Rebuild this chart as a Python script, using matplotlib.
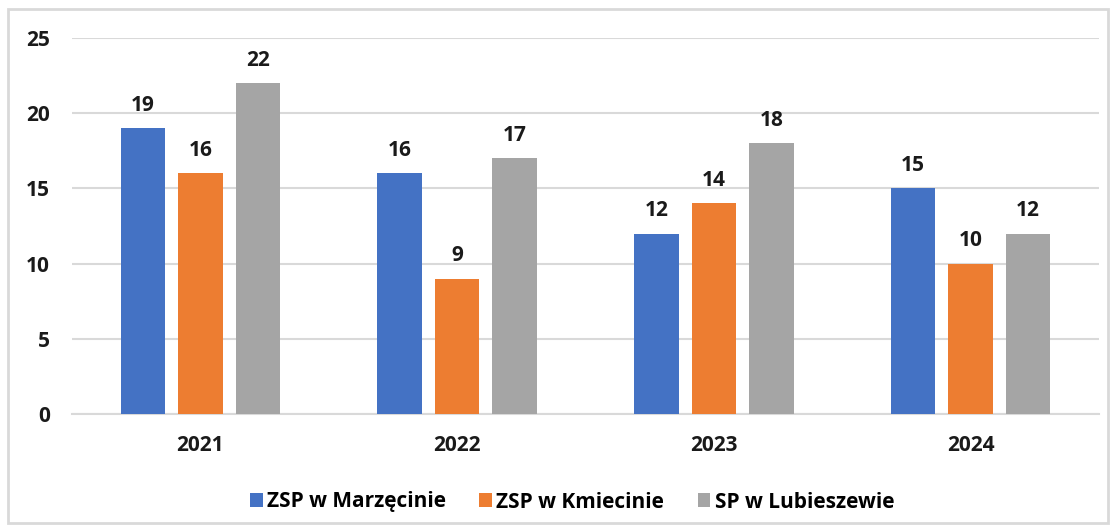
import matplotlib.pyplot as plt
from matplotlib.patches import FancyBboxPatch

plt.rcParams['font.family'] = ['Open Sans', 'DejaVu Sans']
plt.rcParams['font.weight'] = 'bold'

years = ["2021", "2022", "2023", "2024"]
series = ["ZSP w Marzęcinie", "ZSP w Kmiecinie", "SP w Lubieszewie"]
marzecin = [19, 16, 12, 15]
kmiecin = [16, 9, 14, 10]
lubieszewo = [22, 17, 18, 12]
colors = ["#4472C4", "#ED7D31", "#A5A5A5"]

fig = plt.figure(figsize=(11.16, 5.32), dpi=100)
ax = fig.add_axes([72 / 1116, 1 - 414 / 532, 1027 / 1116, 376 / 532])

# light border around the whole chart
fig.patches.append(FancyBboxPatch((8 / 1116, 9 / 532), 1100 / 1116, 514 / 532,
                                  boxstyle="square,pad=0", transform=fig.transFigure,
                                  fill=False, edgecolor="#d9d9d9", linewidth=2))

x = list(range(len(years)))
width = 0.174
offset = 0.224
for i, (vals, name, c) in enumerate(zip([marzecin, kmiecin, lubieszewo], series, colors)):
    pos = [xi + (i - 1) * offset for xi in x]
    bars = ax.bar(pos, vals, width, color=c, label=name, zorder=3)
    ax.bar_label(bars, padding=9, fontsize=15, fontweight='bold', color="#1a1a1a")

ax.set_xlim(-0.5, 3.5)
ax.set_ylim(0, 25)
ax.set_yticks(range(0, 26, 5))
ax.set_xticks(x)
ax.set_xticklabels(years, fontweight='bold')
ax.set_yticklabels([str(v) for v in range(0, 26, 5)], fontweight='bold')
ax.grid(axis='y', color="#d9d9d9", linewidth=1.5, zorder=0)
for s in ["top", "right", "left"]:
    ax.spines[s].set_visible(False)
ax.spines["bottom"].set_color("#d9d9d9")
ax.spines["bottom"].set_linewidth(1.5)
ax.tick_params(axis='both', length=0, labelsize=15, colors="#1a1a1a")
ax.tick_params(axis='x', pad=15)
ax.tick_params(axis='y', pad=16)

ax.legend(loc='center', bbox_to_anchor=(572 / 1116, 30 / 532), bbox_transform=fig.transFigure,
          ncol=3, frameon=False, prop={'size': 15, 'weight': 'bold'}, handlelength=0.62,
          handleheight=0.65, handletextpad=0.2, columnspacing=1.6)

fig.savefig("out.png", dpi=100)
